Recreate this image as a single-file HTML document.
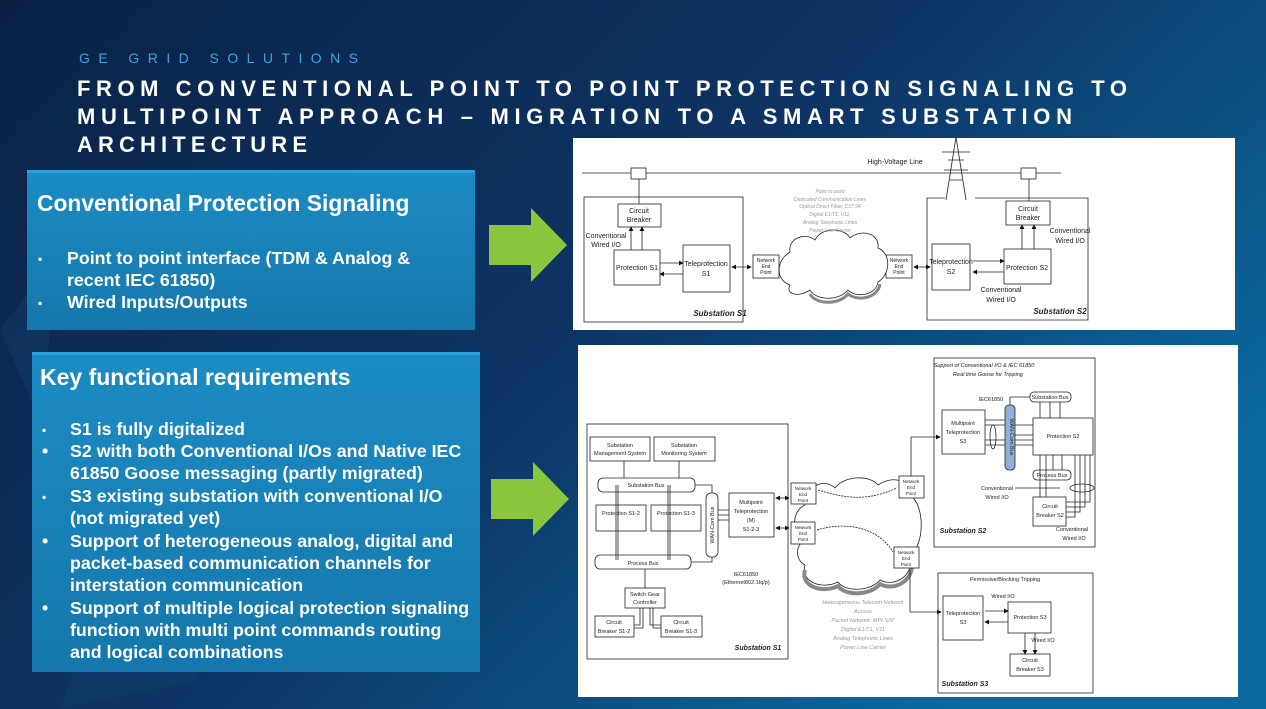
<!DOCTYPE html>
<html><head><meta charset="utf-8"><style>
html,body{margin:0;padding:0;width:1266px;height:709px;overflow:hidden;background:#0c2a50}
svg{display:block}
text{font-family:"Liberation Sans",sans-serif}
</style></head><body>
<svg width="1266" height="709" viewBox="0 0 1266 709" xmlns="http://www.w3.org/2000/svg">
<defs>
<linearGradient id="bg" x1="0" y1="0" x2="1" y2="0.6">
<stop offset="0" stop-color="#0b2245"/><stop offset="0.55" stop-color="#0d3565"/><stop offset="1" stop-color="#0a6aa0"/>
</linearGradient>
<linearGradient id="pn" x1="0" y1="0" x2="0" y2="1">
<stop offset="0" stop-color="#1c8cc4"/><stop offset="1" stop-color="#1577ab"/>
</linearGradient>
<marker id="a" markerWidth="6" markerHeight="6" refX="5" refY="3" orient="auto"><path d="M0,0 L6,3 L0,6z" fill="#111"/></marker>
<marker id="b" markerWidth="6" markerHeight="6" refX="1" refY="3" orient="auto"><path d="M6,0 L0,3 L6,6z" fill="#111"/></marker>
</defs>
<rect width="1266" height="709" fill="url(#bg)"/>
<path d="M0,330 L60,250 L40,420 Z M120,540 L200,680 L60,709Z" fill="#14406f" opacity="0.4"/>

<text x="79" y="63" font-size="14" fill="#3ea2e2" textLength="279" lengthAdjust="spacing">GE GRID SOLUTIONS</text>
<g font-size="22" font-weight="bold" fill="#fff">
<text x="77" y="96" textLength="1050" lengthAdjust="spacing">FROM CONVENTIONAL POINT TO POINT PROTECTION SIGNALING TO</text>
<text x="77" y="124" textLength="995" lengthAdjust="spacing">MULTIPOINT APPROACH – MIGRATION TO A SMART SUBSTATION</text>
<text x="77" y="152" textLength="230" lengthAdjust="spacing">ARCHITECTURE</text>
</g>

<!-- panels -->
<rect x="27" y="170" width="448" height="160" fill="url(#pn)"/>
<rect x="27" y="170" width="448" height="3" fill="#2aa0d8"/>
<g fill="#fff" font-weight="bold">
<text x="37" y="211" font-size="22.8">Conventional Protection Signaling</text>
<g font-size="17.8">
<text x="38" y="263" font-size="12">▪</text><text x="67" y="264">Point to point interface (TDM &amp; Analog &amp;</text>
<text x="67" y="286">recent IEC 61850)</text>
<text x="38" y="307" font-size="12">▪</text><text x="67" y="308">Wired Inputs/Outputs</text>
</g></g>

<rect x="32" y="352" width="448" height="320" fill="url(#pn)"/>
<rect x="32" y="352" width="448" height="3" fill="#2aa0d8"/>
<g fill="#fff" font-weight="bold">
<text x="40" y="385" font-size="23">Key functional requirements</text>
<g font-size="17.8">
<text x="42" y="434" font-size="12">▪</text><text x="70" y="435">S1 is fully digitalized</text>
<text x="42" y="457">•</text><text x="70" y="457">S2 with both Conventional I/Os and Native IEC</text>
<text x="70" y="479">61850 Goose messaging (partly migrated)</text>
<text x="42" y="501" font-size="12">▪</text><text x="70" y="502">S3 existing substation with conventional I/O</text>
<text x="70" y="524">(not migrated yet)</text>
<text x="42" y="547">•</text><text x="70" y="547">Support of heterogeneous analog, digital and</text>
<text x="70" y="569">packet-based communication channels for</text>
<text x="70" y="591">interstation communication</text>
<text x="42" y="614">•</text><text x="70" y="614">Support of multiple logical protection signaling</text>
<text x="70" y="636">function with multi point commands routing</text>
<text x="70" y="658">and logical combinations</text>
</g></g>

<!-- green arrows -->
<path d="M489,225 L531,225 L531,208 L567,245 L531,282 L531,265 L489,265Z" fill="#8cc63f"/>
<path d="M491,479 L533,479 L533,462 L569,499 L533,536 L533,519 L491,519Z" fill="#8cc63f"/>

<!-- DIAGRAM 1 -->
<rect x="573" y="138" width="662" height="192" fill="#fff"/>
<g stroke="#222" stroke-width="0.8" fill="none" font-size="7">
<line x1="582" y1="173" x2="1061" y2="173"/>
<rect x="631" y="168" width="15" height="11" fill="#fff"/>
<rect x="1021" y="168" width="15" height="11" fill="#fff"/>
<line x1="639" y1="179" x2="639" y2="204"/>
<line x1="1029" y1="179" x2="1029" y2="201"/>
<rect x="584" y="197" width="159" height="125"/>
<path d="M945,198 L927,198 L927,320 L1088,320 L1088,198 L975,198"/>
<rect x="618" y="204" width="43" height="23"/>
<rect x="614" y="250" width="46" height="35"/>
<rect x="683" y="245" width="47" height="47"/>
<rect x="753" y="255" width="26" height="23"/>
<rect x="886" y="255" width="26" height="23"/>
<rect x="932" y="244" width="38" height="46"/>
<rect x="1004" y="249" width="47" height="35"/>
<rect x="1006" y="201" width="44" height="24"/>
<line x1="631" y1="250" x2="631" y2="227" marker-end="url(#a)"/>
<line x1="642" y1="250" x2="642" y2="227" marker-end="url(#a)"/>
<line x1="1022" y1="249" x2="1022" y2="225" marker-end="url(#a)"/>
<line x1="1034" y1="249" x2="1034" y2="225" marker-end="url(#a)"/>
<line x1="660" y1="263" x2="683" y2="263" marker-end="url(#a)"/>
<line x1="683" y1="274" x2="660" y2="274" marker-end="url(#a)"/>
<line x1="973" y1="261" x2="1004" y2="261" marker-end="url(#a)"/>
<line x1="1004" y1="272" x2="973" y2="272" marker-end="url(#a)"/>
<line x1="732" y1="267" x2="751" y2="267" marker-start="url(#b)" marker-end="url(#a)"/>
<line x1="914" y1="267" x2="930" y2="267" marker-start="url(#b)" marker-end="url(#a)"/>
<line x1="781" y1="267" x2="884" y2="267" marker-start="url(#b)" marker-end="url(#a)"/>
<path d="M790,285 C775,280 776,260 790,252 C788,238 805,232 815,240 C822,226 845,228 850,238 C862,228 880,234 878,248 C892,254 890,275 878,282 C876,296 855,298 848,290 C838,302 815,300 810,290 C798,298 785,294 790,285Z" fill="#fff"/>
<path d="M880,284 C878,298 858,302 848,294 C838,306 815,304 810,294" stroke="#888" stroke-width="3"/>
<path d="M956,137 L946,200 M956,137 L966,200 M948,160 L964,160 M942,152 L970,152 M944,170 L968,170 M950,180 L962,180"/>
</g>
<g font-size="7" fill="#222" text-anchor="middle">
<text x="895" y="164">High-Voltage Line</text>
<text x="639" y="213">Circuit</text><text x="639" y="222">Breaker</text>
<text x="606" y="238">Conventional</text><text x="606" y="247">Wired I/O</text>
<text x="637" y="270">Protection S1</text>
<text x="706" y="266">Teleprotection</text><text x="706" y="276">S1</text>
<text x="766" y="262" font-size="5">Network</text><text x="766" y="268" font-size="5">End</text><text x="766" y="274" font-size="5">Point</text>
<text x="899" y="262" font-size="5">Network</text><text x="899" y="268" font-size="5">End</text><text x="899" y="274" font-size="5">Point</text>
<text x="951" y="264">Teleprotection</text><text x="951" y="274">S2</text>
<text x="1027" y="270">Protection S2</text>
<text x="1028" y="211">Circuit</text><text x="1028" y="220">Breaker</text>
<text x="1070" y="233">Conventional</text><text x="1070" y="243">Wired I/O</text>
<text x="1001" y="292">Conventional</text><text x="1001" y="302">Wired I/O</text>
<text x="720" y="316" font-weight="bold" font-style="italic" font-size="8">Substation S1</text>
<text x="1060" y="314" font-weight="bold" font-style="italic" font-size="8">Substation S2</text>
<g fill="#999" font-size="5" font-style="italic">
<text x="830" y="193">Point to point</text><text x="830" y="201">Dedicated Communication Lines</text><text x="830" y="208">Optical Direct Fiber, C37.94</text><text x="830" y="216">Digital E1/T1, V11,</text><text x="830" y="224">Analog Telephonic Lines</text><text x="830" y="232">Power Line Carrier</text>
</g></g>

<!-- DIAGRAM 2 -->
<rect x="578" y="345" width="660" height="352" fill="#fff"/>
<g stroke="#222" stroke-width="0.8" fill="none">
<rect x="587" y="424" width="201" height="235"/>
<rect x="590" y="437" width="60" height="24"/>
<rect x="654" y="437" width="61" height="24"/>
<rect x="598" y="478" width="97" height="14" rx="5"/>
<rect x="596" y="505" width="50" height="26"/>
<rect x="651" y="505" width="50" height="26"/>
<rect x="595" y="555" width="96" height="14" rx="5"/>
<rect x="706" y="493" width="12" height="64" rx="5"/>
<rect x="729" y="493" width="45" height="44"/>
<rect x="625" y="588" width="40" height="20"/>
<rect x="595" y="616" width="39" height="21"/>
<rect x="661" y="616" width="41" height="21"/>
<path d="M624,461 L624,478 M679,461 L679,478 M616,485 L616,560 M618,485 L618,560 M668,485 L668,560 M670,485 L670,560 M695,485 L712,485 L712,493 M691,562 L712,562 L712,557 M718,510 L729,510 M718,515 L729,515 M718,520 L729,520 M645,569 L645,588 M640,608 L640,625 L634,625 M643,608 L643,628 L634,628 M650,608 L650,625 L661,625 M653,608 L653,628 L661,628"/>
<line x1="776" y1="498" x2="789" y2="498" marker-start="url(#b)" marker-end="url(#a)"/>
<line x1="776" y1="528" x2="789" y2="528" marker-start="url(#b)" marker-end="url(#a)"/>
<path d="M805,540 C790,535 792,510 805,505 C805,485 825,478 835,488 C845,475 870,475 878,485 C892,475 912,480 910,495 C925,505 925,545 910,555 C915,575 895,588 880,580 C870,592 845,592 838,582 C822,590 800,582 805,565 C795,560 795,545 805,540Z" fill="#fff"/>
<path d="M912,560 C915,580 895,592 880,584 C870,596 845,596 838,586 C822,594 800,586 805,570" stroke="#888" stroke-width="4"/>
<rect x="791" y="483" width="25" height="21" fill="#fff"/>
<rect x="791" y="522" width="24" height="22" fill="#fff"/>
<rect x="899" y="476" width="25" height="22" fill="#fff"/>
<rect x="894" y="547" width="25" height="21" fill="#fff"/>
<path d="M818,490 C850,500 870,500 897,488" stroke-dasharray="2,1"/>
<path d="M817,530 C850,520 880,530 893,552" stroke-dasharray="2,1"/>
<path d="M911,476 L911,437 L940,437" marker-end="url(#a)"/>
<path d="M910,570 L910,612 L941,612" marker-end="url(#a)"/>
<rect x="934" y="358" width="161" height="189"/>
<rect x="942" y="410" width="43" height="44"/>
<rect x="1005" y="405" width="10" height="65" rx="4" fill="#8fb0d8"/>
<rect x="1030" y="392" width="41" height="10" rx="4"/>
<rect x="1033" y="418" width="60" height="37"/>
<rect x="1033" y="470" width="38" height="10" rx="4"/>
<rect x="1033" y="497" width="33" height="29"/>
<path d="M985,420 L1005,420 M985,425 L1005,425 M985,440 L1005,440 M985,445 L1005,445 M1015,425 L1033,425 M1015,435 L1033,435 M1015,440 L1033,440 M1015,445 L1033,445 M1010,405 L1010,397 L1030,397 M1040,402 L1040,418 M1050,402 L1050,418 M1060,402 L1060,418 M1040,455 L1040,497 M1046,455 L1046,497 M1053,455 L1053,470 M1062,455 L1062,470 M1066,502 L1090,502 L1090,455 M1066,507 L1085,507 L1085,455 M1066,512 L1080,512 L1080,455 M1066,517 L1075,517 L1075,455 M1015,488 L1060,488"/>
<ellipse cx="1082" cy="488" rx="12" ry="4"/>
<ellipse cx="993" cy="437" rx="3" ry="12"/>
<rect x="938" y="573" width="155" height="120"/>
<rect x="943" y="596" width="40" height="44"/>
<rect x="1008" y="602" width="43" height="31"/>
<rect x="1010" y="654" width="40" height="22"/>
<line x1="985" y1="611" x2="1008" y2="611" marker-end="url(#a)"/>
<line x1="1008" y1="622" x2="985" y2="622" marker-end="url(#a)"/>
<line x1="1025" y1="633" x2="1025" y2="654" marker-end="url(#a)"/>
<line x1="1035" y1="633" x2="1035" y2="654" marker-end="url(#a)"/>
</g>
<g font-size="5.5" fill="#222" text-anchor="middle">
<text x="620" y="447">Substation</text><text x="620" y="455">Management System</text>
<text x="684" y="447">Substation</text><text x="684" y="455">Monitoring System</text>
<text x="646" y="487">Substation Bus</text>
<text x="621" y="515">Protection S1-2</text><text x="676" y="515">Protection S1-3</text>
<text x="643" y="565">Process Bus</text>
<text x="714" y="525" transform="rotate(-90 714 525)">WAN-Com Bus</text>
<text x="751" y="504">Multipoint</text><text x="751" y="513">Teleprotection</text><text x="751" y="522">(M)</text><text x="751" y="531">S1-2-3</text>
<text x="645" y="596">Switch Gear</text><text x="645" y="604">Controller</text>
<text x="614" y="624">Circuit</text><text x="614" y="633">Breaker S1-2</text>
<text x="681" y="624">Circuit</text><text x="681" y="633">Breaker S1-3</text>
<text x="746" y="576">IEC61850</text><text x="746" y="584">(Ethernet802.1Iq/p)</text>
<text x="758" y="650" font-weight="bold" font-style="italic" font-size="7">Substation S1</text>
<g font-size="4.5"><text x="803" y="490">Network</text><text x="803" y="496">End</text><text x="803" y="502">Point</text>
<text x="803" y="529">Network</text><text x="803" y="535">End</text><text x="803" y="541">Point</text>
<text x="911" y="483">Network</text><text x="911" y="489">End</text><text x="911" y="495">Point</text>
<text x="906" y="554">Network</text><text x="906" y="560">End</text><text x="906" y="566">Point</text></g>
<g fill="#999" font-style="italic" font-size="5.5"><text x="863" y="604">Heterogeneous Telecom Network</text><text x="863" y="613">Access</text><text x="863" y="622">Packet Network: MPLS/IP</text><text x="863" y="631">Digital E1/T1, V11</text><text x="863" y="640">Analog Telephonic Lines</text><text x="863" y="649">Power Line Carrier</text></g>
<g font-style="italic"><text x="984" y="367" font-size="5.5">Support of Conventional I/O &amp; IEC 61850</text><text x="988" y="376" font-size="5.5">Real time Goose for Tripping</text></g>
<text x="991" y="401">IEC61850</text>
<text x="963" y="425">Multipoint</text><text x="963" y="434">Teleprotection</text><text x="963" y="443">S3</text>
<text x="1010" y="437" transform="rotate(90 1010 437)">WAN-Com Bus</text>
<text x="1050" y="399">Substation Bus</text><text x="1052" y="477">Process Bus</text>
<text x="1063" y="438">Protection S2</text>
<text x="1050" y="508">Circuit</text><text x="1050" y="517">Breaker S2</text>
<text x="997" y="490">Conventional</text><text x="997" y="499">Wired I/O</text>
<text x="1072" y="531">Conventional</text><text x="1074" y="540">Wired I/O</text>
<text x="963" y="533" font-weight="bold" font-style="italic" font-size="7">Substation S2</text>
<text x="1005" y="581">Permissive/Blocking Tripping</text>
<text x="1003" y="598">Wired I/O</text><text x="1043" y="642">Wired I/O</text>
<text x="963" y="615">Teleprotection</text><text x="963" y="624">S3</text>
<text x="1030" y="619">Protection S3</text>
<text x="1030" y="662">Circuit</text><text x="1030" y="671">Breaker S3</text>
<text x="965" y="686" font-weight="bold" font-style="italic" font-size="7">Substation S3</text>
</g>
</svg>
</body></html>
